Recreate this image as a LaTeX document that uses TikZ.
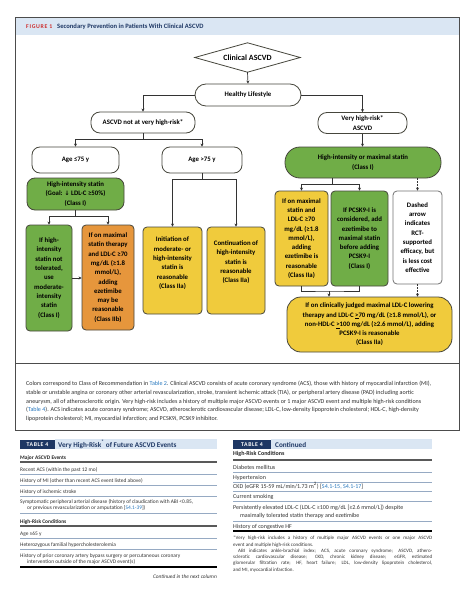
\documentclass[tikz,border=0pt]{standalone}
\usepackage{fontspec}
\setmainfont{Carlito}
\newfontfamily\symf{DejaVu Sans}
\usetikzlibrary{arrows.meta,calc}
\definecolor{gfill}{RGB}{112,173,71}
\definecolor{ofill}{RGB}{230,150,60}
\definecolor{yfill}{RGB}{240,203,60}
\definecolor{bline}{RGB}{70,70,60}
\definecolor{navy}{RGB}{30,55,100}
\definecolor{hdrband}{RGB}{218,230,243}
\definecolor{figred}{RGB}{205,45,45}
\definecolor{linkblue}{RGB}{40,120,190}
\definecolor{rulec}{RGB}{150,170,195}
\definecolor{captxt}{RGB}{45,45,45}
\newcommand{\ffont}{\fontsize{6.8}{9.3}\selectfont\bfseries}
\newcommand{\rfont}{\fontsize{5.4}{6}\selectfont}
\newcommand{\rrfont}{\fontsize{6}{6.5}\selectfont}
\newcommand{\cfont}{\fontsize{6.05}{6.5}\selectfont}
\newcommand{\nfont}{\fontsize{5}{6.3}\selectfont}
\begin{document}
\begin{tikzpicture}[x=1pt,y=-1pt,
  fc/.style={draw=bline, line width=0.8pt, rounded corners=4pt, inner sep=0pt, align=center, font=\ffont, text=black},
  conn/.style={draw=black!80, line width=0.7pt},
  arr/.style={conn, -{Stealth[length=3pt,width=3pt]}},
  rowt/.style={anchor=base west, inner sep=0pt, font=\rfont, text=black!80},
  rrowt/.style={anchor=base west, inner sep=0pt, font=\rrfont, text=black!80},
  capt/.style={anchor=base west, inner sep=0pt, font=\cfont, text=captxt},
  hrule/.style={draw=rulec, line width=0.6pt},
  thrule/.style={draw=black!65, line width=1.5pt},
  endrule/.style={draw=black, line width=1.1pt},
]
\useasboundingbox (0,0) rectangle (474,599);
\fill[white] (0,0) rectangle (474,599);

% ---------- figure frame ----------
\fill[hdrband] (15,17) rectangle (459,35);
\draw[black!70, line width=0.9pt] (15,17) rectangle (459,430);
\draw[black!70, line width=0.8pt] (15,363) -- (459,363);
\node[anchor=base west, inner sep=0pt, font=\fontsize{5.8}{6}\selectfont\bfseries\addfontfeatures{LetterSpace=12}, text=figred] (fig) at (26,28.5) {FIGURE 1};
\node[anchor=base west, inner sep=0pt, font=\fontsize{6.6}{7}\selectfont\bfseries, text=navy] (figt) at (57,28.5) {Secondary Prevention in Patients With Clinical ASCVD};

% ---------- flowchart ----------
\node[inner sep=0pt, minimum width=105pt, minimum height=29pt, font=\fontsize{8}{9}\selectfont\bfseries] (cv) at (247.5,57.5) {Clinical ASCVD};
\draw[bline, line width=0.8pt] (cv.north) -- (cv.east) -- (cv.south) -- (cv.west) -- cycle;

\node[fc, rounded corners=11pt, minimum width=106pt, minimum height=22pt] (hl) at (248,95) {Healthy Lifestyle};
\node[fc, rounded corners=9pt, minimum width=104pt, minimum height=21pt] (nv) at (143,122.5) {ASCVD not at very high-risk*};
\node[fc, rounded corners=9pt, minimum width=89pt, minimum height=21pt] (vh) at (362.5,123) {Very high-risk*\\ASCVD};

\node[fc, rounded corners=8pt, minimum width=87pt, minimum height=26pt] (a1) at (75.5,160) {Age ≤75 y};
\node[fc, rounded corners=8pt, minimum width=80pt, minimum height=26pt] (a2) at (202,160) {Age >75 y};

\node[fc, fill=gfill, rounded corners=8pt, minimum width=97pt, minimum height=32pt] (his) at (75.5,194) {High-intensity statin\\(Goal: {\symf\fontsize{6}{9}\selectfont ↓} LDL-C ≥50\%)\\(Class I)};
\node[fc, fill=gfill, rounded corners=15pt, minimum width=156pt, minimum height=31pt] (hims) at (363,162.5) {High-intensity or maximal statin\\(Class I)};

\node[fc, fill=gfill, minimum width=46pt, minimum height=106pt] (g1) at (49,278) {If high-\\intensity\\statin not\\tolerated,\\use\\moderate-\\intensity\\statin\\(Class I)};
\node[fc, fill=ofill, minimum width=52pt, minimum height=105pt] (o1) at (108,277.5) {If on maximal\\statin therapy\\and LDL-C ≥70\\mg/dL (≥1.8\\mmol/L),\\adding\\ezetimibe\\may be\\reasonable\\(Class IIb)};
\node[fc, fill=yfill, minimum width=59pt, minimum height=87pt] (y1) at (172.5,270.5) {Initiation of\\moderate- or\\high-intensity\\statin is\\reasonable\\(Class IIa)\\[6pt]};
\node[fc, fill=yfill, minimum width=58pt, minimum height=87pt] (y2) at (236,270.5) {Continuation of\\high-intensity\\statin is\\reasonable\\(Class IIa)\\[8pt]};

\node[fc, fill=yfill, minimum width=53pt, minimum height=95pt] (y3) at (301.5,238.5) {If on maximal\\statin and\\LDL-C ≥70\\mg/dL (≥1.8\\mmol/L),\\adding\\ezetimibe is\\reasonable\\(Class IIa)};
\node[fc, fill=gfill, minimum width=57pt, minimum height=95pt] (g2) at (359.5,238.5) {If PCSK9-I is\\considered, add\\ezetimibe to\\maximal statin\\before adding\\PCSK9-I\\(Class I)};
\node[fc, draw=black!55, fill=white, minimum width=49pt, minimum height=93pt] (w) at (417.5,237.5) {Dashed\\arrow\\indicates\\RCT-\\supported\\efficacy, but\\is less cost\\effective};

\node[fc, fill=yfill, rounded corners=14pt, minimum width=165pt, minimum height=55pt] (yb) at (369.5,324.5) {If on clinically judged maximal LDL-C lowering\\therapy and LDL-C \underline{>}70 mg/dL (≥1.8 mmol/L), or\\non-HDL-C \underline{>}100 mg/dL (≥2.6 mmol/L), adding\\PCSK9-I is reasonable\\(Class IIa)};

% connectors
\draw[arr] (cv.south) -- (hl.north);
\draw[arr] (hl.west) -| (nv.north);
\draw[arr] (hl.east) -| (vh.north);
\coordinate (j1) at (143,139);
\draw[conn] (nv.south) -- (j1);
\draw[arr] (j1) -| (a1.north);
\draw[arr] (j1) -| (a2.north);
\coordinate (j2) at (75.5,216);
\draw[conn] (his.south) -- (j2);
\draw[arr] (j2) -| (g1.north);
\draw[arr] (j2) -| (o1.north);
\draw[arr] (g1.east) -- (g1.east -| o1.west);
\coordinate (j3) at (202,179);
\draw[conn] (a2.south) -- (j3);
\draw[arr] (j3) -| (y1.north);
\draw[arr] (j3) -| (y2.north);
\draw[arr] (vh.south) -- (vh.south |- hims.north);
\coordinate (j4) at (332,184);
\draw[conn] (j4 |- hims.south) -- (j4);
\draw[arr] (j4) -| (y3.north);
\draw[arr] (j4) -| (g2.north);
\draw[arr, dash pattern=on 1.5pt off 1.5pt] (w.north |- hims.south) -- (w.north);
\coordinate (j5) at (329,291);
\draw[conn] (y3.south) |- (j5) -| (g2.south);
\draw[arr] (j5) -- (j5 |- yb.north);
\draw[arr, dash pattern=on 1.5pt off 1.5pt] (w.south) -- (w.south |- yb.north);

% ---------- caption ----------
\node[capt] (c1) at (26,385) {Colors correspond to Class of Recommendation in \textcolor{linkblue}{Table 2}. Clinical ASCVD consists of acute coronary syndrome (ACS), those with history of myocardial infarction (MI),};
\node[capt] (c2) at (26,394) {stable or unstable angina or coronary other arterial revascularization, stroke, transient ischemic attack (TIA), or peripheral artery disease (PAD) including aortic};
\node[capt] (c3) at (26,403) {aneurysm, all of atherosclerotic origin. Very high-risk includes a history of multiple major ASCVD events or 1 major ASCVD event and multiple high-risk conditions};
\node[capt] (c4) at (26,411.5) {(\textcolor{linkblue}{Table 4}). ACS indicates acute coronary syndrome; ASCVD, atherosclerotic cardiovascular disease; LDL-C, low-density lipoprotein cholesterol; HDL-C, high-density};
\node[capt] (c5) at (26,420.5) {lipoprotein cholesterol; MI, myocardial infarction; and PCSK9i, PCSK9 inhibitor.};

% ---------- Table 4 (left) ----------
\node[fill=navy, text=white, minimum width=35pt, minimum height=9.5pt, inner sep=0pt, font=\fontsize{5.8}{6}\selectfont\bfseries\addfontfeatures{LetterSpace=10}] (tb1) at (37.5,444.25) {TABLE 4};
\fill[hdrband] (tb1.north east) rectangle (217,449);
\node[anchor=base west, inner sep=0pt, font=\fontsize{7.2}{8}\selectfont\bfseries, text=navy] (tt1) at (58,447) {Very High-Risk\textsuperscript{*} of Future ASCVD Events};

\node[rowt, font=\rfont\bfseries, text=black!85] (lh1) at (20,459) {Major ASCVD Events};
\draw[thrule] (20,462) -- (217,462);
\node[rowt] (l1) at (20,471) {Recent ACS (within the past 12 mo)};
\draw[hrule] (20,474.5) -- (217,474.5);
\node[rowt] (l2) at (20,482) {History of MI (other than recent ACS event listed above)};
\draw[hrule] (20,485.5) -- (217,485.5);
\node[rowt] (l3) at (20,493) {History of ischemic stroke};
\draw[hrule] (20,496.5) -- (217,496.5);
\node[rowt] (l4) at (20,503) {Symptomatic peripheral arterial disease (history of claudication with ABI <0.85,};
\node[rowt] (l4b) at (27,509.5) {or previous revascularization or amputation [\textcolor{linkblue}{S4.1-39}])};
\draw[hrule] (20,513) -- (217,513);
\node[rowt, font=\rfont\bfseries, text=black!85] (lh2) at (20,523) {High-Risk Conditions};
\draw[thrule] (20,526) -- (217,526);
\node[rowt] (l5) at (20,535) {Age ≥65 y};
\draw[hrule] (20,538) -- (217,538);
\node[rowt] (l6) at (20,546) {Heterozygous familial hypercholesterolemia};
\draw[hrule] (20,549) -- (217,549);
\node[rowt] (l7) at (20,557) {History of prior coronary artery bypass surgery or percutaneous coronary};
\node[rowt] (l7b) at (27,563.5) {intervention outside of the major ASCVD event(s)};
\draw[endrule] (20,567) -- (217,567);
\node[rowt, anchor=base east, font=\rfont\itshape] (cont) at (217,578) {Continued in the next column};

% ---------- Table 4 (right) ----------
\node[fill=navy, text=white, minimum width=38pt, minimum height=9.5pt, inner sep=0pt, font=\fontsize{5.8}{6}\selectfont\bfseries\addfontfeatures{LetterSpace=10}] (tb2) at (252,444.25) {TABLE 4};
\fill[hdrband] (tb2.north east) rectangle (432,449);
\node[anchor=base west, inner sep=0pt, font=\fontsize{7.2}{8}\selectfont\bfseries, text=navy] (tt2) at (275,447) {Continued};

\node[rrowt, font=\rrfont\bfseries, text=black!85] (rh1) at (233,455.5) {High-Risk Conditions};
\draw[thrule] (233,460) -- (432,460);
\node[rrowt] (r1) at (233,469) {Diabetes mellitus};
\draw[hrule] (233,472) -- (432,472);
\node[rrowt] (r2) at (233,479) {Hypertension};
\draw[hrule] (233,482) -- (432,482);
\node[rrowt] (r3) at (233,488.5) {CKD (eGFR 15-59 mL/min/1.73 m\textsuperscript{2}) [\textcolor{linkblue}{S4.1-15, S4.1-17}]};
\draw[hrule] (233,491.5) -- (432,491.5);
\node[rrowt] (r4) at (233,498.5) {Current smoking};
\draw[hrule] (233,501.5) -- (432,501.5);
\node[rrowt] (r5) at (233,509) {Persistently elevated LDL-C (LDL-C ≥100 mg/dL [≥2.6 mmol/L]) despite};
\node[rrowt] (r5b) at (240,517) {maximally tolerated statin therapy and ezetimibe};
\draw[hrule] (233,521) -- (432,521);
\node[rrowt] (r6) at (233,528) {History of congestive HF};
\draw[endrule] (233,531) -- (432,531);
\node[anchor=north west, inner sep=0pt, font=\nfont, text=black!80, text width=199pt, align=justify] (fn) at (233,536) {*Very high-risk includes a history of multiple major ASCVD events or one major ASCVD\linebreak event and multiple high-risk conditions.\par
\hspace*{5pt}ABI indicates ankle-brachial index; ACS, acute coronary syndrome; ASCVD, athero-\linebreak sclerotic cardiovascular disease; CKD, chronic kidney disease; eGFR, estimated\linebreak glomerular filtration rate; HF, heart failure; LDL, low-density lipoprotein cholesterol,\linebreak and MI, myocardial infarction.};
\end{tikzpicture}
\end{document}
